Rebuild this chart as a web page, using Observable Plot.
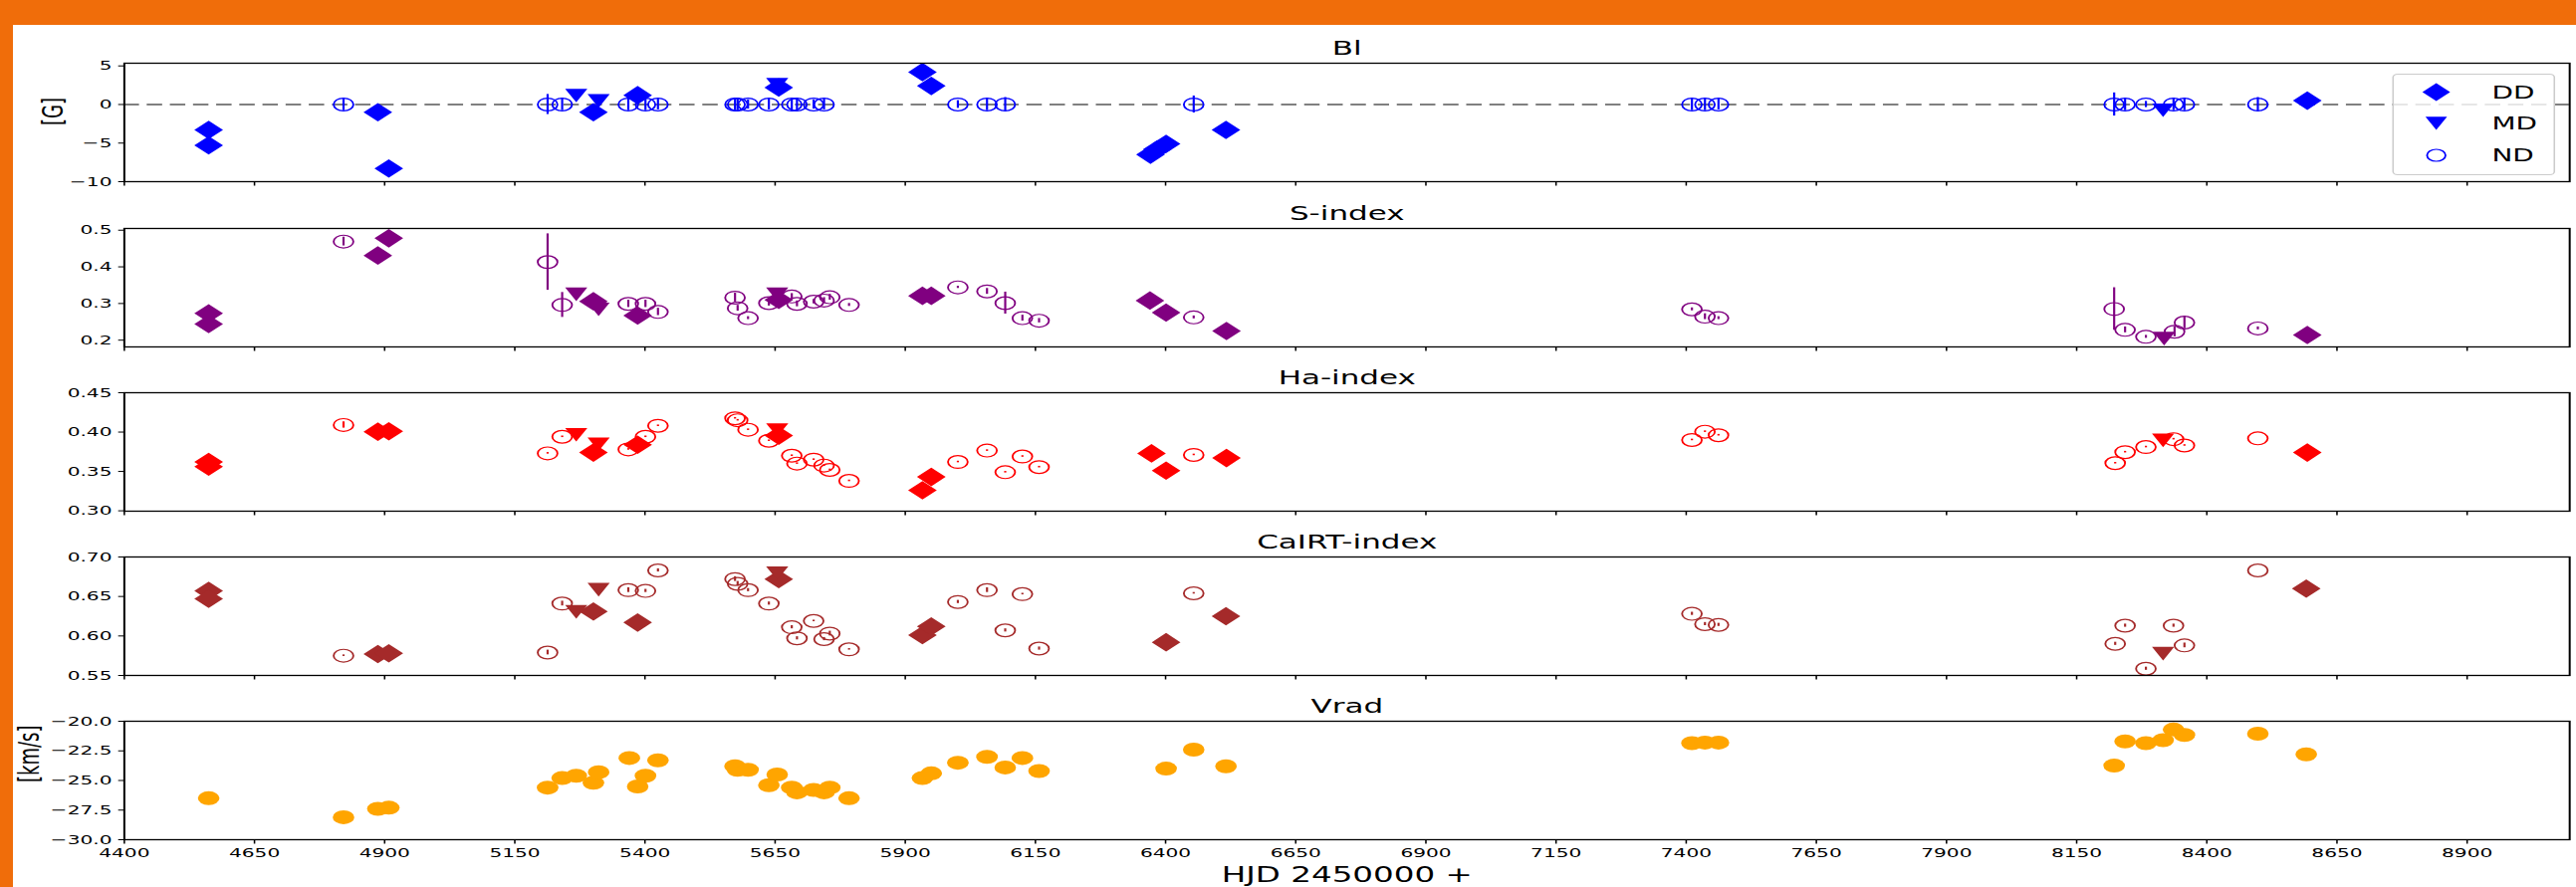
<!DOCTYPE html>
<html><head><meta charset="utf-8">
<script src="https://cdn.jsdelivr.net/npm/d3@7"></script>
<script src="https://cdn.jsdelivr.net/npm/@observablehq/plot@0.6"></script>
<style>
html,body{margin:0;padding:0;background:#fff;width:2587px;height:891px;overflow:hidden;}
#stage{position:absolute;left:0;top:0;width:1669px;height:891px;transform:scaleX(1.55);transform-origin:0 0;font-family:"DejaVu Sans",sans-serif;}
.bar{position:absolute;background:#f06d0a;}
</style></head><body>
<div id="stage"></div>
<div class="bar" style="left:0;top:0;width:2587px;height:25px"></div>
<div class="bar" style="left:0;top:0;width:13px;height:891px"></div>
<script>
// ---------- data (HJD - 2450000, value, error, detection type) ----------
const xTicks = [4400,4650,4900,5150,5400,5650,5900,6150,6400,6650,6900,7150,7400,7650,7900,8150,8400,8650,8900];
const blTicks = [-10,-5,0,5];
const sTicks = [0.2,0.3,0.4,0.5];
const haTicks = [0.30,0.35,0.40,0.45];
const caTicks = [0.55,0.60,0.65,0.70];
const vrTicks = [-30,-27.5,-25,-22.5,-20];
const legendLabels = ["DD","MD","ND"];
const panelTitles = ["Bl","S-index","Ha-index","CaIRT-index","Vrad"];

const blData = [
 [4562,-3.3,0,"DD"],[4562,-5.3,0,"DD"],[4821,0,0.8,"ND"],[4887,-1.0,0,"DD"],[4908,-8.3,0,"DD"],
 [5213,0,1.3,"ND"],[5241,0,0.8,"ND"],[5268,1.2,0,"MD"],[5301,-1.0,0,"DD"],[5311,0.5,0,"MD"],
 [5368,0,0.8,"ND"],[5386,1.2,0,"DD"],[5401,0,0.8,"ND"],[5425,0,0.7,"ND"],
 [5573,0,0.8,"ND"],[5578,0,0.8,"ND"],[5598,0,0.6,"ND"],[5638,0,0.7,"ND"],[5654,2.6,0,"MD"],[5657,2.2,0,"DD"],
 [5682,0,0.8,"ND"],[5692,0,0.8,"ND"],[5724,0,0.6,"ND"],[5744,0,0.7,"ND"],
 [5933,4.2,0,"DD"],[5950,2.4,0,"DD"],[6001,0,0.5,"ND"],[6057,0,0.8,"ND"],[6092,0,0.9,"ND"],
 [6371,-6.5,0,"DD"],[6384,-5.8,0,"DD"],[6401,-5.1,0,"DD"],[6454,0,1.1,"ND"],[6516,-3.3,0,"DD"],
 [7411,0,0.8,"ND"],[7436,0,0.8,"ND"],[7462,0,0.7,"ND"],
 [8222,0,1.5,"ND"],[8243,0,0.8,"ND"],[8283,0,0.4,"ND"],[8316,-0.7,0,"MD"],[8336,0,0.8,"ND"],[8357,0,0.8,"ND"],[8498,0,0.9,"ND"],[8593,0.5,0,"DD"]
];
const sData = [
 [4562,0.273,0,"DD"],[4562,0.244,0,"DD"],[4821,0.469,0.012,"ND"],[4887,0.431,0,"DD"],[4908,0.478,0,"DD"],
 [5213,0.413,0.077,"ND"],[5241,0.296,0.034,"ND"],[5268,0.326,0,"MD"],[5301,0.306,0,"DD"],[5311,0.285,0,"MD"],
 [5368,0.299,0.01,"ND"],[5386,0.267,0,"DD"],[5401,0.299,0.01,"ND"],[5425,0.277,0.01,"ND"],
 [5573,0.316,0.012,"ND"],[5578,0.287,0.008,"ND"],[5598,0.260,0.004,"ND"],[5638,0.301,0.008,"ND"],[5654,0.326,0,"MD"],[5657,0.310,0,"DD"],
 [5682,0.319,0.008,"ND"],[5692,0.299,0.008,"ND"],[5724,0.305,0.006,"ND"],[5744,0.308,0.008,"ND"],[5755,0.317,0.008,"ND"],[5792,0.296,0.004,"ND"],
 [5933,0.321,0,"DD"],[5950,0.321,0,"DD"],[6001,0.344,0.003,"ND"],[6057,0.333,0.008,"ND"],[6092,0.301,0.03,"ND"],[6125,0.260,0.008,"ND"],[6157,0.253,0.006,"ND"],
 [6370,0.308,0,"DD"],[6401,0.275,0,"DD"],[6454,0.262,0.004,"ND"],[6517,0.225,0,"DD"],
 [7411,0.284,0.004,"ND"],[7436,0.264,0.008,"ND"],[7462,0.260,0.004,"ND"],
 [8222,0.285,0.058,"ND"],[8243,0.228,0.008,"ND"],[8283,0.209,0.004,"ND"],[8318,0.205,0,"MD"],[8338,0.223,0.014,"ND"],[8357,0.248,0.017,"ND"],[8498,0.232,0.004,"ND"],[8593,0.214,0,"DD"]
];
const haData = [
 [4562,0.362,0,"DD"],[4562,0.356,0,"DD"],[4821,0.409,0.004,"ND"],[4887,0.4005,0,"DD"],[4908,0.401,0,"DD"],
 [5213,0.373,0.001,"ND"],[5241,0.394,0.001,"ND"],[5268,0.397,0,"MD"],[5301,0.374,0,"DD"],[5311,0.385,0,"MD"],
 [5368,0.378,0.001,"ND"],[5386,0.384,0,"DD"],[5401,0.394,0.001,"ND"],[5425,0.408,0.001,"ND"],
 [5573,0.4175,0.001,"ND"],[5578,0.415,0.001,"ND"],[5598,0.403,0.001,"ND"],[5638,0.389,0.001,"ND"],[5654,0.403,0,"MD"],[5657,0.3955,0,"DD"],
 [5682,0.370,0.001,"ND"],[5692,0.360,0.001,"ND"],[5724,0.365,0.001,"ND"],[5744,0.3575,0.001,"ND"],[5755,0.352,0.001,"ND"],[5792,0.338,0.001,"ND"],
 [5933,0.326,0,"DD"],[5950,0.343,0,"DD"],[6001,0.362,0.001,"ND"],[6057,0.3765,0.001,"ND"],[6092,0.349,0.001,"ND"],[6125,0.369,0.001,"ND"],[6157,0.3555,0.001,"ND"],
 [6373,0.373,0,"DD"],[6401,0.351,0,"DD"],[6454,0.371,0.001,"ND"],[6517,0.367,0,"DD"],
 [7411,0.390,0.001,"ND"],[7436,0.4005,0.001,"ND"],[7462,0.396,0.001,"ND"],
 [8224,0.3605,0.001,"ND"],[8243,0.3745,0.001,"ND"],[8283,0.381,0.001,"ND"],[8316,0.390,0,"MD"],[8336,0.391,0.001,"ND"],[8357,0.383,0.001,"ND"],[8498,0.392,0,"ND"],[8593,0.374,0,"DD"]
];
const caData = [
 [4562,0.657,0,"DD"],[4562,0.647,0,"DD"],[4821,0.575,0.001,"ND"],[4887,0.577,0,"DD"],[4908,0.578,0,"DD"],
 [5213,0.579,0.003,"ND"],[5241,0.641,0.003,"ND"],[5268,0.631,0,"MD"],[5301,0.631,0,"DD"],[5311,0.659,0,"MD"],
 [5368,0.658,0.003,"ND"],[5386,0.617,0,"DD"],[5401,0.657,0.002,"ND"],[5425,0.683,0.002,"ND"],
 [5573,0.672,0.003,"ND"],[5578,0.666,0.003,"ND"],[5598,0.658,0.002,"ND"],[5638,0.641,0.002,"ND"],[5654,0.680,0,"MD"],[5657,0.672,0,"DD"],
 [5682,0.611,0.002,"ND"],[5692,0.597,0.002,"ND"],[5724,0.619,0.001,"ND"],[5744,0.596,0.002,"ND"],[5755,0.603,0.003,"ND"],[5792,0.583,0.001,"ND"],
 [5933,0.601,0,"DD"],[5950,0.612,0,"DD"],[6001,0.643,0.002,"ND"],[6057,0.658,0.003,"ND"],[6092,0.607,0.002,"ND"],[6125,0.653,0.001,"ND"],[6157,0.584,0.002,"ND"],
 [6401,0.592,0,"DD"],[6454,0.654,0.001,"ND"],[6516,0.625,0,"DD"],
 [7411,0.628,0.002,"ND"],[7436,0.615,0.002,"ND"],[7462,0.614,0.002,"ND"],
 [8224,0.590,0.002,"ND"],[8243,0.613,0.002,"ND"],[8283,0.5585,0.002,"ND"],[8316,0.578,0,"MD"],[8336,0.613,0.002,"ND"],[8357,0.588,0.003,"ND"],[8498,0.683,0,"ND"],[8591,0.660,0,"DD"]
];
const vrData = [
 [4562,-26.5],[4821,-28.1],[4887,-27.4],[4908,-27.3],[5213,-25.6],[5241,-24.8],[5268,-24.6],[5301,-25.2],[5311,-24.3],
 [5370,-23.1],[5386,-25.5],[5401,-24.6],[5425,-23.3],[5573,-23.8],[5578,-24.1],[5598,-24.1],[5638,-25.4],[5654,-24.5],
 [5682,-25.6],[5692,-26.0],[5724,-25.8],[5744,-26.0],[5755,-25.6],[5792,-26.5],[5933,-24.8],[5950,-24.4],[6001,-23.5],
 [6057,-23.0],[6092,-23.9],[6125,-23.1],[6157,-24.2],[6401,-24.0],[6454,-22.4],[6516,-23.8],
 [7411,-21.85],[7436,-21.8],[7462,-21.8],[8222,-23.75],[8243,-21.7],[8283,-21.85],[8316,-21.6],[8336,-20.7],[8357,-21.15],[8498,-21.05],[8591,-22.8]
];

// ---------- layout ----------
const K = 1.55;              // horizontal stretch of the original figure
const W = 2587 / K;
const AX_L = 124 / K, AX_R = 2580 / K, AX_H = 119;
const MT = 30, MB = 50;
const stage = document.getElementById("stage");

const diamondSym = {draw(ctx, size){ const r = Math.sqrt(size/Math.PI); ctx.moveTo(0,-r); ctx.lineTo(r,0); ctx.lineTo(0,r); ctx.lineTo(-r,0); ctx.closePath(); }};
const triDownSym = {draw(ctx, size){ const r = Math.sqrt(size/Math.PI); ctx.moveTo(0,r); ctx.lineTo(-r,-r*0.9); ctx.lineTo(r,-r*0.9); ctx.closePath(); }};

function panel(cfg) {
  const data = cfg.data;
  const dd = data.filter(d => d[3] === "DD");
  const md = data.filter(d => d[3] === "MD");
  const nd = data.filter(d => d[3] === "ND");
  const marks = [];
  if (cfg.zero) marks.push(Plot.ruleY([0], {stroke: "#808080", strokeWidth: 2, strokeDasharray: "10,5"}));
  if (cfg.vrad) {
    marks.push(Plot.dot(data, {x: d => d[0], y: d => d[1], r: 7, fill: cfg.color, stroke: "none", clip: true}));
  } else {
    marks.push(Plot.ruleX(nd, {x: d => d[0], y1: d => d[1] - d[2], y2: d => d[1] + d[2], stroke: cfg.color, strokeWidth: 1.4, clip: true}));
    marks.push(Plot.dot(dd, {x: d => d[0], y: d => d[1], symbol: diamondSym, r: 9.3, fill: cfg.color, stroke: "none", clip: true}));
    marks.push(Plot.dot(md, {x: d => d[0], y: d => d[1], symbol: triDownSym, r: 7.2, fill: cfg.color, stroke: "none", clip: true}));
    marks.push(Plot.dot(nd, {x: d => d[0], y: d => d[1], r: 6.4, fill: "none", stroke: cfg.color, strokeWidth: 1.2, clip: true}));
  }
  marks.push(Plot.frame({stroke: "black", strokeWidth: 1.3}));
  marks.push(Plot.text([cfg.title], {frameAnchor: "top", lineAnchor: "middle", dy: -14.5, fontSize: 20, fill: "black"}));
  if (cfg.ylabel) marks.push(Plot.text([cfg.ylabel], {frameAnchor: "left", lineAnchor: "middle", dx: cfg.ylabelDx, dy: cfg.ylabelDy || 0, rotate: -90, fontSize: 18, fill: "black"}));
  if (cfg.xlabel) marks.push(Plot.text([cfg.xlabel], {frameAnchor: "bottom", lineAnchor: "middle", dy: 36, fontSize: 21, fill: "black"}));
  const chart = Plot.plot({
    width: W, height: MT + AX_H + MB,
    marginLeft: AX_L, marginRight: W - AX_R, marginTop: MT, marginBottom: MB,
    style: {fontFamily: "DejaVu Sans", fontSize: "13px", color: "black", background: "transparent", overflow: "visible", maxWidth: "none"},
    x: {domain: [4400, 9097], ticks: xTicks, tickSize: 4.5, tickPadding: 4, label: null,
        tickFormat: cfg.showX ? d3.format("d") : () => ""},
    y: {domain: cfg.domain, ticks: cfg.ticks, tickSize: 3.5, tickPadding: 4.5, label: null, tickFormat: cfg.fmt},
    marks
  });
  chart.style.position = "absolute";
  chart.style.left = "0px";
  chart.style.top = (cfg.top - MT) + "px";
  stage.appendChild(chart);
}

panel({data: blData, color: "#0000ff", domain: [-10, 5.35], ticks: blTicks, fmt: d3.format("d"), top: 63, title: panelTitles[0], zero: true, ylabel: "[G]", ylabelDx: -46, ylabelDy: 3});
panel({data: sData, color: "#800080", domain: [0.1815, 0.5047], ticks: sTicks, fmt: d3.format(".1f"), top: 229.3, title: panelTitles[1]});
panel({data: haData, color: "#ff0000", domain: [0.2995, 0.45], ticks: haTicks, fmt: d3.format(".2f"), top: 394, title: panelTitles[2]});
panel({data: caData, color: "#a52a2a", domain: [0.55, 0.70], ticks: caTicks, fmt: d3.format(".2f"), top: 559.3, title: panelTitles[3]});
panel({data: vrData, color: "#ffa500", domain: [-30, -20], ticks: vrTicks, fmt: d3.format(".1f"), top: 724, title: panelTitles[4], vrad: true, showX: true, ylabel: "[km/s]", ylabelDx: -61, ylabelDy: 2, xlabel: "HJD 2450000 +"});

// ---------- legend ----------
const lg = d3.select(stage).append("svg")
  .attr("width", 106).attr("height", 103)
  .style("position", "absolute").style("left", "1549.5px").style("top", "73.5px").style("overflow", "visible");
lg.append("rect").attr("x", 0.5).attr("y", 0.5).attr("width", 104.5).attr("height", 101).attr("rx", 3)
  .attr("fill", "white").attr("fill-opacity", 0.8).attr("stroke", "#cccccc").attr("stroke-width", 1);
const rows = [18.5, 49.5, 82];
const syms = [d3.symbol().type(diamondSym).size(Math.PI*81)(), d3.symbol().type(triDownSym).size(Math.PI*49)(), null];
legendLabels.forEach((lab, i) => {
  if (syms[i]) lg.append("path").attr("d", syms[i]).attr("transform", `translate(28.5,${rows[i]})`).attr("fill", "#0000ff");
  else lg.append("circle").attr("cx", 28.5).attr("cy", rows[i]).attr("r", 6).attr("fill", "none").attr("stroke", "#0000ff").attr("stroke-width", 1.2);
  lg.append("text").attr("x", 64.5).attr("y", rows[i]).attr("dy", "0.36em").attr("font-size", 18)
    .attr("font-family", "DejaVu Sans").attr("fill", "black").text(lab);
});
</script>
</body></html>
